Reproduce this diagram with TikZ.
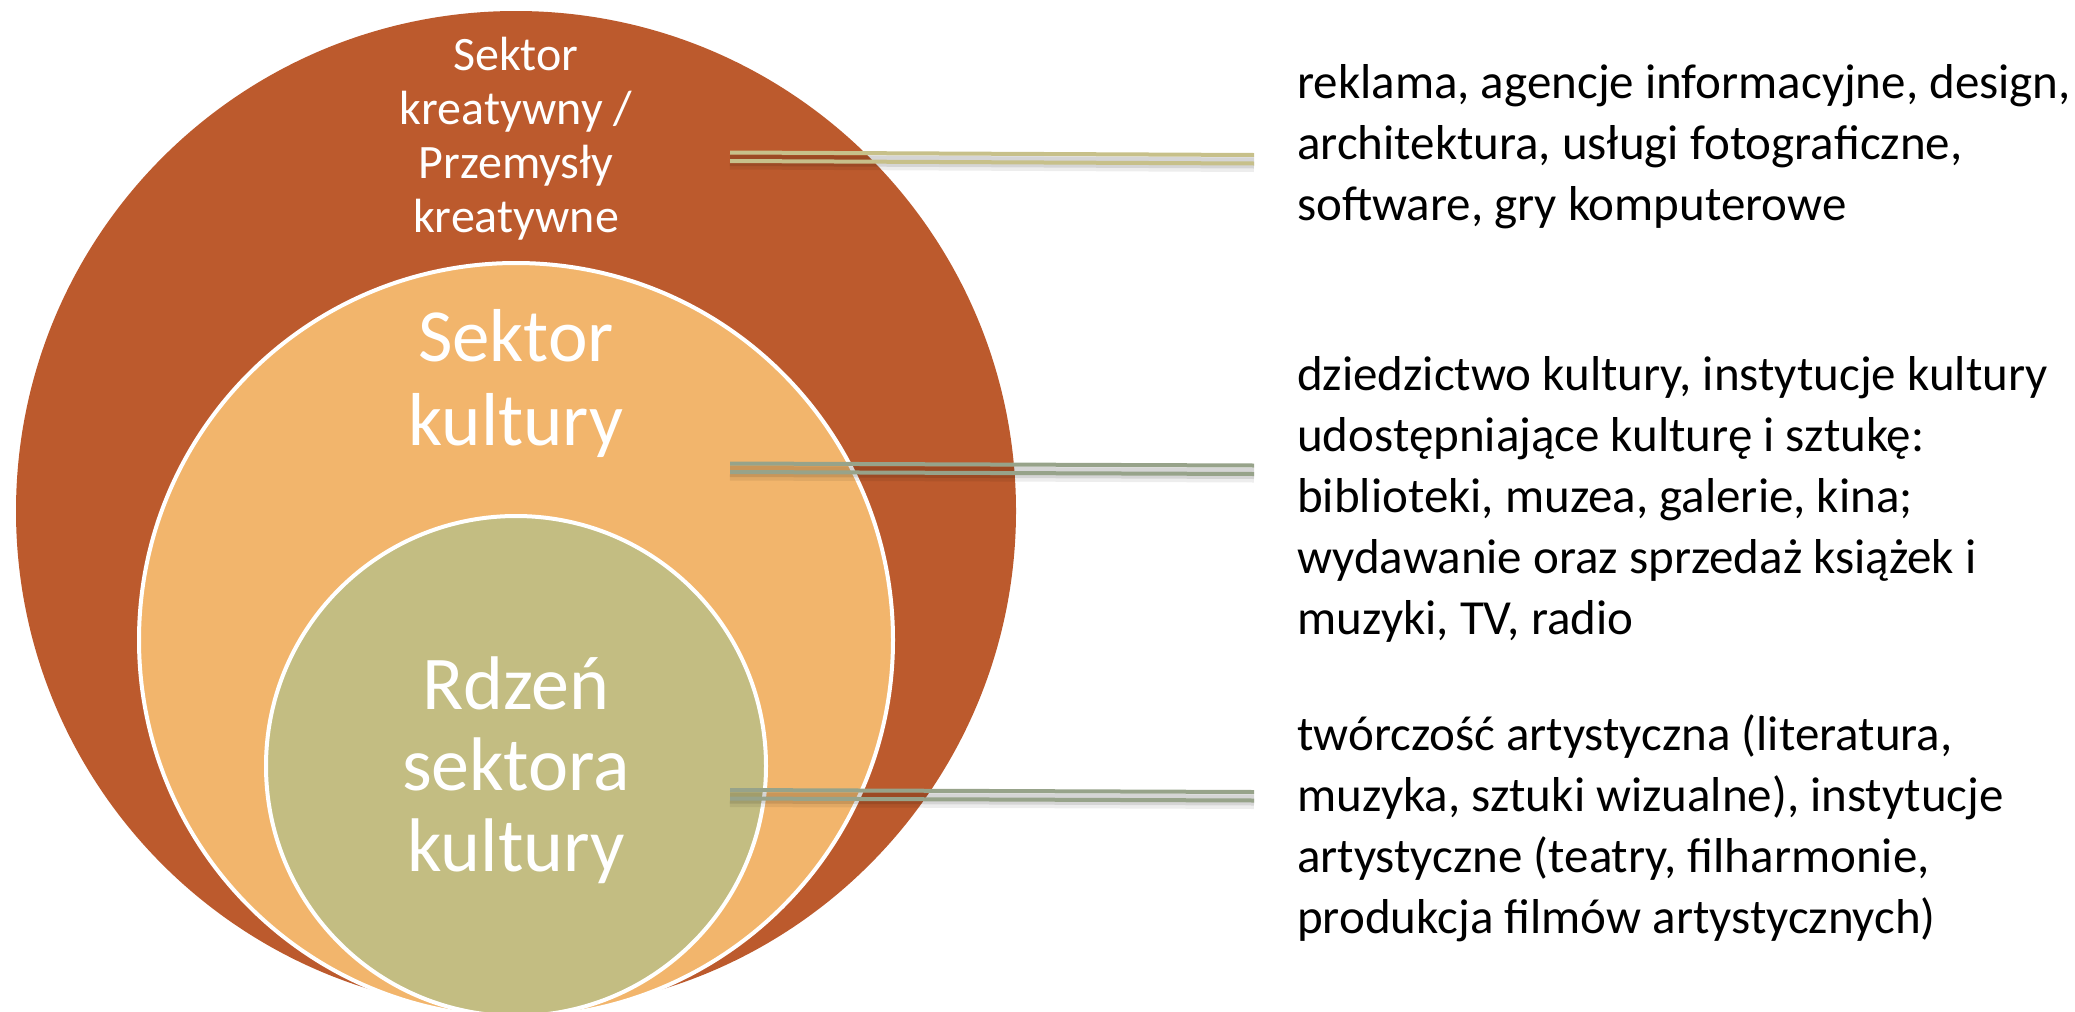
\documentclass[tikz,border=0pt]{standalone}
\usepackage{fontspec}
\setmainfont{Carlito}
\definecolor{rust}{HTML}{BC5A2D}
\definecolor{peach}{HTML}{F2B56C}
\definecolor{olive}{HTML}{C3BD82}
\definecolor{tanline}{HTML}{C7C08A}
\definecolor{sageline}{HTML}{97A38A}
\tikzset{
  ring/.style={circle, inner sep=0pt, outer sep=0pt},
  rtext/.style={font=\fontsize{49}{61}\selectfont, align=left, inner sep=0pt, anchor=base west, text=black},
  ctext/.style={align=center, inner sep=0pt, anchor=base, text=white},
  shade1/.style={line width=16pt, draw=black, opacity=0.07},
  shade2/.style={line width=11pt, draw=black, opacity=0.10},
  bar/.style={line width=4pt}
}
\begin{document}
\begin{tikzpicture}[x=1pt,y=-1pt]
\useasboundingbox (0,0) rectangle (2075,1012);
\begin{scope}
\clip (0,0) rectangle (2075,1012);
\node[ring, fill=rust, minimum size=1000pt] (outer) at (516,511) {};
\node[ring, fill=peach, draw=white, line width=4pt, minimum size=754pt] (middle) at (516,640) {};
\node[ring, fill=olive, draw=white, line width=4pt, minimum size=500pt] (inner) at (516,766) {};
\end{scope}
% circle labels (anchor = baseline of last line)
\node[ctext, font=\fontsize{48}{54}\selectfont] (lab1) at (516,232) {Sektor\\kreatywny /\\Przemysły\\kreatywne};
\node[ctext, font=\fontsize{75}{84}\selectfont] (lab2) at (516,445) {Sektor\\kultury};
\node[ctext, font=\fontsize{76}{81}\selectfont] (lab3) at (516,871) {Rdzeń\\sektora\\kultury};
% connector ends
\coordinate (a1) at (730,152.5); \coordinate (b1) at (1254,155);
\coordinate (a2) at (730,463.5); \coordinate (b2) at (1254,465.5);
\coordinate (a3) at (730,790);   \coordinate (b3) at (1254,792);
% shadows
\foreach \p/\q in {a1/b1,a2/b2,a3/b3}{
  \draw[shade1] ([yshift=-9pt]\p) -- ([yshift=-9pt]\q);
  \draw[shade2] ([yshift=-8pt]\p) -- ([yshift=-8pt]\q);
}
% double bars
\draw[bar, tanline] (a1) -- (b1);
\draw[bar, tanline] ([yshift=-8.5pt]a1) -- ([yshift=-8.5pt]b1);
\draw[bar, sageline] (a2) -- (b2);
\draw[bar, sageline] ([yshift=-8.5pt]a2) -- ([yshift=-8.5pt]b2);
\draw[bar, sageline] (a3) -- (b3);
\draw[bar, sageline] ([yshift=-8.5pt]a3) -- ([yshift=-8.5pt]b3);
% right texts (anchor = baseline of last line)
\node[rtext] (t1) at (1297,220) {reklama, agencje informacyjne, design,\\architektura, usługi fotograficzne,\\software, gry komputerowe};
\node[rtext] (t2) at (1297,634) {dziedzictwo kultury, instytucje kultury\\udostępniające kulturę i sztukę:\\biblioteki, muzea, galerie, kina;\\wydawanie oraz sprzedaż książek i\\muzyki, TV, radio};
\node[rtext] (t3) at (1297,933) {twórczość artystyczna (literatura,\\muzyka, sztuki wizualne), instytucje\\artystyczne (teatry, filharmonie,\\produkcja filmów artystycznych)};
\end{tikzpicture}
\end{document}
